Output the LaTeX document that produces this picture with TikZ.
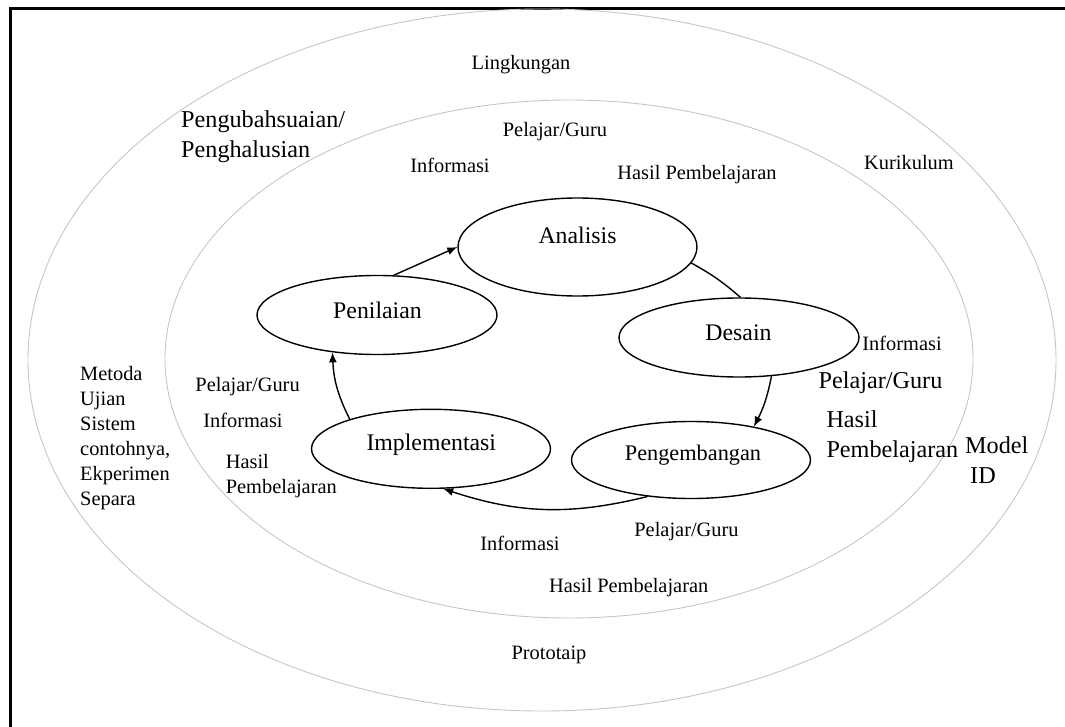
\documentclass[tikz,border=0pt]{standalone}
\usepackage{fontspec}
\setmainfont{Liberation Serif}
\usepackage{tikz}
\usetikzlibrary{arrows.meta}
\usetikzlibrary{shapes.geometric}

\tikzset{
  ring/.style={gray!45,line width=0.9pt},
  phase/.style={draw,ellipse,line width=1.4pt,inner sep=0pt},
  phasetext/.style={font=\fontsize{23.8}{28}\selectfont,inner sep=0pt},
  small/.style={font=\fontsize{20.4}{25}\selectfont,inner sep=0pt},
  large/.style={font=\fontsize{24.2}{30}\selectfont,inner sep=0pt},
  flow/.style={line width=1.4pt,-{Latex[length=10pt,width=8pt]}}
}

\begin{document}
\begin{tikzpicture}[x=1pt,y=1pt]
\useasboundingbox (0,0) rectangle (1065,-727);
% frame (only top and left edge show)
\draw[line width=2.5pt] (10.5,-727) -- (10.5,-8.3) -- (1065,-8.3);

% rings
\draw[ring] (542,-360) ellipse [x radius=514,y radius=351];
\draw[ring] (569,-359) ellipse [x radius=404,y radius=259];

% phases
\node[phase,minimum width=239,minimum height=98] (analisis) at (577.5,-247) {};
\node[phase,minimum width=240,minimum height=79] (penilaian) at (377,-315) {};
\node[phase,minimum width=240,minimum height=79] (desain) at (739,-337.5) {};
\node[phase,minimum width=239,minimum height=79] (implementasi) at (431,-448.8) {};
\node[phase,minimum width=239,minimum height=77] (pengembangan) at (691,-460) {};

\node[phasetext] (analisis-t) at (577.5,-235) {Analisis};
\node[phasetext] (penilaian-t) at (377.5,-310) {Penilaian};
\node[phasetext] (desain-t) at (738.5,-333) {Desain};
\node[phasetext] (implementasi-t) at (431.3,-445) {Implementasi};
\node[phasetext,font=\fontsize{22.3}{26}\selectfont] (pengembangan-t) at (693,-455) {Pengembangan};

% cycle
\draw[flow] (penilaian.67.5) -- (analisis.west);
\draw[line width=1.4pt] (analisis.-8) to[bend left=6] (desain.88.5);
\draw[flow] (desain.-50) to[bend left=8] (pengembangan.28);
\draw[flow] (pengembangan.220) to[bend left=16] (implementasi.-73);
\draw[flow] (implementasi.160) to[bend left=12] (penilaian.220);

% outer ring texts
\node[small] (lingkungan) at (521,-65) {Lingkungan};
\node[large,align=left,anchor=west] (ubah) at (181,-137) {Pengubahsuaian/\\Penghalusian};
\node[small] (kurikulum) at (909,-163) {Kurikulum};
\node[small,align=left,anchor=west] (metoda) at (80,-438) {Metoda\\Ujian\\Sistem\\contohnya,\\Ekperimen\\Separa};
\node[large,align=left,anchor=west] (model) at (965,-460) {Model\\\hspace*{5pt}ID};
\node[small] (prototaip) at (549,-655) {Prototaip};

% inner ring texts
\node[small] (pg1) at (555,-132) {Pelajar/Guru};
\node[small] (inf1) at (450,-165) {Informasi};
\node[small] (hp1) at (697,-175) {Hasil Pembelajaran};

\node[small] (pg2) at (247.6,-387) {Pelajar/Guru};
\node[small] (inf2) at (243,-420) {Informasi};
\node[small,align=left,anchor=west] (hp2) at (225.6,-476) {Hasil\\Pembelajaran};

\node[small] (inf3) at (902,-343) {Informasi};
\node[large] (pg3) at (880.5,-383) {Pelajar/Guru};
\node[large,align=left,anchor=west] (hp3) at (826.3,-437) {Hasil\\Pembelajaran};

\node[small] (inf4) at (520,-543) {Informasi};
\node[small] (pg4) at (686.5,-532) {Pelajar/Guru};
\node[small] (hp4) at (628.7,-588) {Hasil Pembelajaran};
\end{tikzpicture}
\end{document}
